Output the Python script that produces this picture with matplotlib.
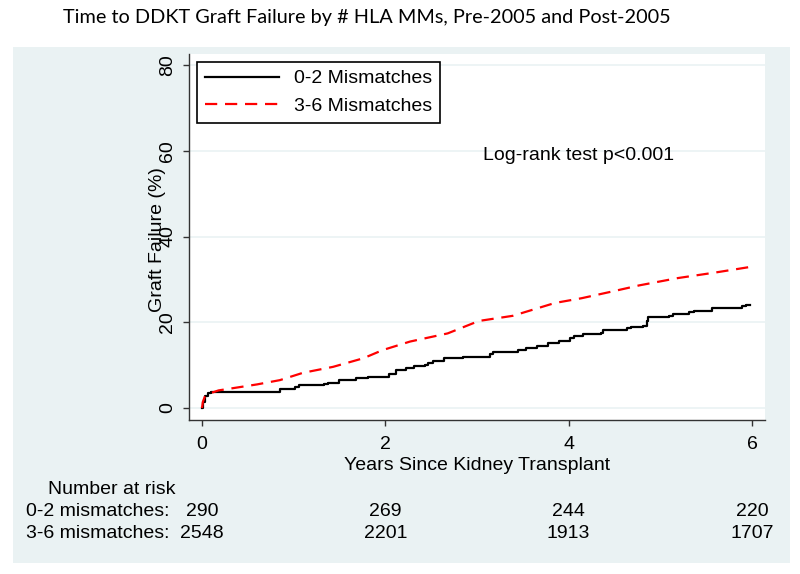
import matplotlib
matplotlib.use("Agg")
import matplotlib.pyplot as plt
from matplotlib.patches import Rectangle
from matplotlib.lines import Line2D
import matplotlib.transforms as mtransforms

# ---- data ----
t_low = [0.0, 0.01, 0.03, 0.06, 0.10, 0.85, 1.01, 1.06, 1.33, 1.37, 1.49, 1.68, 1.81, 2.04, 2.12,
         2.22, 2.31, 2.43, 2.47, 2.52, 2.64, 2.85, 3.14, 3.18, 3.45, 3.54, 3.66, 3.77, 3.89,
         4.02, 4.06, 4.16, 4.35, 4.37, 4.64, 4.68, 4.81, 4.85, 4.87, 5.09, 5.14, 5.31, 5.37,
         5.56, 5.89, 5.94, 5.98]
f_low = [0.0, 1.5, 2.9, 3.4, 3.75, 4.4, 5.0, 5.3, 5.6, 5.9, 6.5, 7.0, 7.3, 8.0, 8.8,
         9.3, 9.8, 10.0, 10.5, 11.0, 11.6, 12.0, 12.5, 13.0, 13.5, 14.1, 14.5, 15.1, 15.7,
         16.3, 16.8, 17.2, 17.6, 18.2, 18.6, 18.8, 19.1, 20.3, 21.2, 21.5, 21.9, 22.3, 22.7,
         23.3, 23.7, 24.0, 24.0]

t_high = [0.0, 0.01, 0.03, 0.07, 0.18, 0.60, 0.85, 1.10, 1.43, 1.76, 1.97, 2.27, 2.68, 3.02,
          3.39, 3.85, 4.14, 4.48, 4.77, 5.19, 5.60, 5.98]
f_high = [0.0, 1.5, 2.6, 3.3, 4.1, 5.5, 6.5, 8.2, 9.6, 11.6, 13.5, 15.5, 17.4, 20.3,
          21.5, 24.5, 25.6, 27.2, 28.6, 30.3, 31.6, 32.9]

x_ticks = [0, 2, 4, 6]
y_ticks = [0, 20, 40, 60, 80]
series_labels = ["0-2 Mismatches", "3-6 Mismatches"]
risk_rows = ["0-2 mismatches:", "3-6 mismatches:"]
risk_low = [290, 269, 244, 220]
risk_high = [2548, 2201, 1913, 1707]

W, H = 800, 574
fig = plt.figure(figsize=(W / 100, H / 100), dpi=100)
fig.patch.set_facecolor("white")

def fx(px):
    return px / W

def fy(py):
    return 1 - py / H

panel_col = "#EAF2F3"
fig.patches.append(Rectangle((fx(13), fy(563)), fx(790) - fx(13), fy(47) - fy(563),
                             transform=fig.transFigure, facecolor=panel_col,
                             edgecolor="none", zorder=0))

FONT = "Liberation Sans"
FS = 14

ax = fig.add_axes([fx(189), fy(420), fx(765) - fx(189), fy(54) - fy(420)])
ax.set_facecolor("white")
ax.set_zorder(2)

ax.plot(t_low, f_low, color="black", lw=1.6, drawstyle="steps-post", zorder=3)
ax.plot(t_high, f_high, color="red", lw=1.6, ls=(0, (5.5, 3.5)), zorder=4)

ax.set_xlim(-0.142, 6.142)
ax.set_ylim(-2.8, 82.57)
ax.set_xticks(x_ticks)
ax.set_yticks(y_ticks)
ax.set_xticklabels([str(v) for v in x_ticks], fontfamily=FONT, fontsize=FS)
ax.set_yticklabels([str(v) for v in y_ticks], fontfamily=FONT, fontsize=FS,
                   rotation=90, va="center")
ax.tick_params(axis="both", direction="out", length=4.3, width=1, color="#333333")
ax.tick_params(axis="x", pad=7)
ax.tick_params(axis="y", pad=5)
for side in ["top", "right"]:
    ax.spines[side].set_visible(False)
for side in ["left", "bottom"]:
    ax.spines[side].set_color("#333333")
    ax.spines[side].set_linewidth(1)
ax.yaxis.grid(True, color=panel_col, lw=1.2)
ax.set_axisbelow(True)

ax.set_xlabel("Years Since Kidney Transplant", fontfamily=FONT, fontsize=FS, labelpad=3)

fig.text(fx(157), fy(240), "Graft Failure (%)", rotation=90, ha="center", va="center",
         fontfamily=FONT, fontsize=FS, zorder=5)

handles = [Line2D([], [], color="black", lw=1.6),
           Line2D([], [], color="red", lw=1.6, ls=(0, (5.5, 3.5)))]
leg = ax.legend(handles, series_labels, loc="upper left",
                bbox_to_anchor=(fx(197), fy(62)), bbox_transform=fig.transFigure,
                prop={"family": FONT, "size": FS}, frameon=True, fancybox=False,
                edgecolor="black", framealpha=1, handlelength=3.8, borderpad=0.4,
                labelspacing=0.5, handletextpad=0.8, borderaxespad=0)
leg.get_frame().set_linewidth(1.2)

ax.text(fx(483), fy(155), "Log-rank test p<0.001", transform=fig.transFigure,
        ha="left", va="center", fontfamily=FONT, fontsize=FS)

fig.text(fx(63), fy(17), "Time to DDKT Graft Failure by # HLA MMs, Pre-2005 and Post-2005",
         ha="left", va="center", fontfamily="Lato", fontsize=14.3)

# number at risk table
trans = mtransforms.blended_transform_factory(ax.transData, fig.transFigure)
fig.text(fx(48), fy(489), "Number at risk", ha="left", va="center", fontfamily=FONT, fontsize=FS)
fig.text(fx(26), fy(511), risk_rows[0], ha="left", va="center", fontfamily=FONT, fontsize=FS)
fig.text(fx(26), fy(533), risk_rows[1], ha="left", va="center", fontfamily=FONT, fontsize=FS)
for xv, a, b in zip(x_ticks, risk_low, risk_high):
    ax.text(xv, fy(511), str(a), transform=trans, ha="center", va="center",
            fontfamily=FONT, fontsize=FS, clip_on=False)
    ax.text(xv, fy(533), str(b), transform=trans, ha="center", va="center",
            fontfamily=FONT, fontsize=FS, clip_on=False)

fig.savefig("out.png", dpi=100)
